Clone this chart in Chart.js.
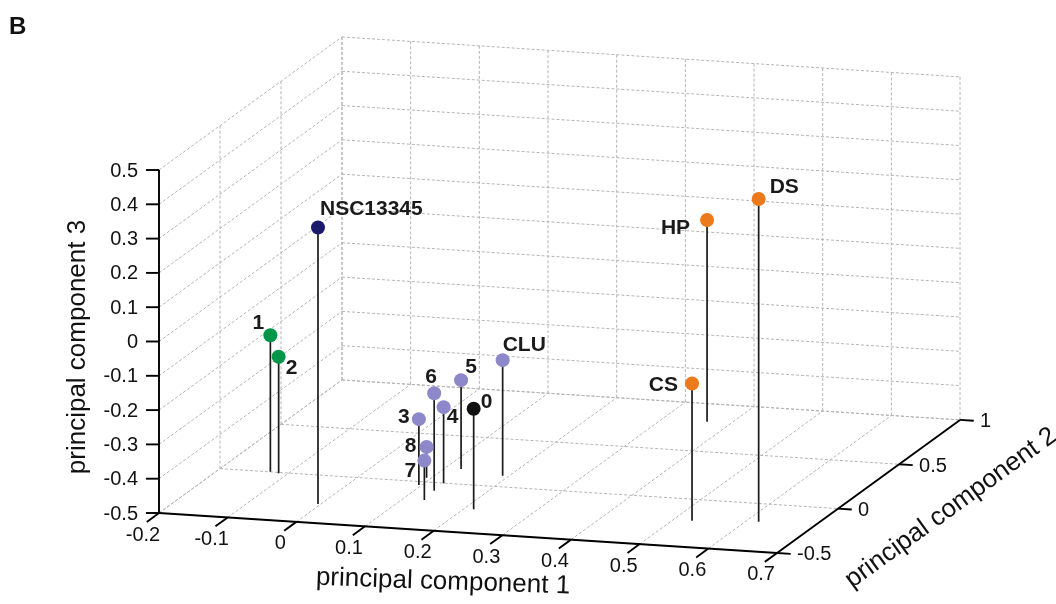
<!DOCTYPE html>
<html>
<head>
<meta charset="utf-8">
<script src="https://cdn.jsdelivr.net/npm/chart.js@4.4.1/dist/chart.umd.min.js"></script>
<style>
    html, body { margin: 0; padding: 0; background: #fff; }
    #wrap { width: 1056px; height: 604px; }
</style>
</head>
<body>
<div id="wrap"><canvas id="pca" width="1056" height="604"></canvas></div>
<script>
"use strict";

// Names of the compounds and their scores on the three principal components.
const names = ["NSC13345", "1", "2", "0", "3", "4", "5", "6", "8", "7", "CLU", "CS", "HP", "DS"];
const pc1 = [-0.004, -0.127, -0.113, 0.214, 0.096, 0.126, 0.123, 0.127, 0.093, 0.131, 0.191, 0.527, 0.365, 0.618];
const pc2 = [-0.300, 0.002, -0.009, -0.251, -0.036, -0.002, 0.158, -0.085, 0.044, -0.188, 0.116, -0.223, 0.812, -0.189];
const pc3 = [0.306, -0.102, -0.160, -0.207, -0.308, -0.278, -0.241, -0.216, -0.410, -0.385, -0.163, -0.100, 0.088, 0.441];
const groups = ["nsc", "green", "green", "zero", "lila", "lila", "lila", "lila", "lila", "lila", "lila", "oranje", "oranje", "oranje"];

// Tick values of the three axes.
const pc1Ticks = [-0.2, -0.1, 0, 0.1, 0.2, 0.3, 0.4, 0.5, 0.6, 0.7];
const pc2Ticks = [-0.5, 0, 0.5, 1];
const pc3Ticks = [-0.5, -0.4, -0.3, -0.2, -0.1, 0, 0.1, 0.2, 0.3, 0.4, 0.5];

// Colours per group.
const groupColors = { nsc: "#1c1a6b", green: "#00964a", zero: "#111111", lila: "#8d88c9", oranje: "#ec7a1c" };

// Where the label of each point sits, relative to its dot (pixels) and how it is aligned.
const labelPlaats = [
    [2, -18, "left"], [-12, -12, "center"], [13, 12, "center"], [13, -7, "center"],
    [-15, -2, "center"], [9, 10, "center"], [10, -13, "center"], [-3, -16, "center"],
    [-16, -1, "center"], [-14, 11, "center"], [0, -15, "left"], [-14, 2, "right"],
    [-17, 8, "right"], [11, -12, "left"]
];

// Box limits.
const lim1 = [-0.2, 0.7], lim2 = [-0.5, 1], lim3 = [-0.5, 0.5];

// Oblique view: screen position of the box corner and the screen step per unit of each component.
const view = {
    ox: 159, oy: 513,
    e1: [686.7, 44.4],
    e2: [122, -88.7],
    e3: [0, -343]
};

// Project a 3D point (pc1, pc2, pc3) to the 2D frame of the chart.
function projecteer(a, b, c) {
    const da = a - lim1[0], db = b - lim2[0], dc = c - lim3[0];
    return {
        x: view.ox + da * view.e1[0] + db * view.e2[0] + dc * view.e3[0],
        y: view.oy + da * view.e1[1] + db * view.e2[1] + dc * view.e3[1]
    };
}

function fmt(v) {
    return String(Math.round(v * 10) / 10);
}

// Stems: from the floor up to the point.
const stemSets = names.map((n, i) => ({
    type: "line",
    showLine: true,
    data: [projecteer(pc1[i], pc2[i], lim3[0]), projecteer(pc1[i], pc2[i], pc3[i])],
    borderColor: "#1a1a1a",
    borderWidth: 1.7,
    pointRadius: 0,
    order: 2
}));

// Points grouped by colour.
const puntSets = Object.keys(groupColors).map(g => ({
    type: "scatter",
    data: names.map((n, i) => i).filter(i => groups[i] === g).map(i => projecteer(pc1[i], pc2[i], pc3[i])),
    backgroundColor: groupColors[g],
    borderWidth: 0,
    pointRadius: 7,
    order: 1
}));

// Draws the grid walls, axes, ticks and axis titles behind the data.
const doosPlugin = {
    id: "doos",
    beforeDatasetsDraw(chart) {
        const ctx = chart.ctx;
        const sx = chart.scales.x, sy = chart.scales.y;
        const px = (a, b, c) => {
            const p = projecteer(a, b, c);
            return [sx.getPixelForValue(p.x), sy.getPixelForValue(p.y)];
        };
        const lijn = (p, q) => {
            ctx.beginPath();
            ctx.moveTo(p[0], p[1]);
            ctx.lineTo(q[0], q[1]);
            ctx.stroke();
        };

        ctx.save();
        // grid
        ctx.strokeStyle = "#b4b4b4";
        ctx.lineWidth = 1;
        ctx.setLineDash([3, 2]);
        pc1Ticks.forEach(t => {
            lijn(px(t, lim2[1], lim3[0]), px(t, lim2[1], lim3[1]));
            lijn(px(t, lim2[0], lim3[0]), px(t, lim2[1], lim3[0]));
        });
        pc2Ticks.forEach(t => {
            lijn(px(lim1[0], t, lim3[0]), px(lim1[0], t, lim3[1]));
            lijn(px(lim1[0], t, lim3[0]), px(lim1[1], t, lim3[0]));
        });
        pc3Ticks.forEach(t => {
            lijn(px(lim1[0], lim2[1], t), px(lim1[1], lim2[1], t));
            lijn(px(lim1[0], lim2[0], t), px(lim1[0], lim2[1], t));
        });
        ctx.setLineDash([]);

        // axes
        ctx.strokeStyle = "#000";
        ctx.lineWidth = 1.9;
        lijn(px(lim1[0], lim2[0], lim3[0]), px(lim1[0], lim2[0], lim3[1]));
        lijn(px(lim1[0], lim2[0], lim3[0]), px(lim1[1], lim2[0], lim3[0]));
        lijn(px(lim1[1], lim2[0], lim3[0]), px(lim1[1], lim2[1], lim3[0]));

        ctx.fillStyle = "#111";
        ctx.font = "20px 'Liberation Sans', Arial, sans-serif";

        // pc3 ticks
        ctx.textAlign = "right";
        ctx.textBaseline = "middle";
        pc3Ticks.forEach(t => {
            const p = px(lim1[0], lim2[0], t);
            lijn(p, [p[0] - 13, p[1]]);
            ctx.fillText(fmt(t), p[0] - 21, p[1] + 1);
        });

        // pc1 ticks
        ctx.textAlign = "center";
        pc1Ticks.forEach(t => {
            const p = px(t, lim2[0], lim3[0]);
            lijn(p, [p[0] - 12.2, p[1] + 8.9]);
            ctx.fillText(fmt(t), p[0] - 16, p[1] + 22);
        });

        // pc2 ticks
        ctx.textAlign = "left";
        pc2Ticks.forEach(t => {
            const p = px(lim1[1], t, lim3[0]);
            lijn(p, [p[0] + 13.7, p[1] + 0.9]);
            ctx.fillText(fmt(t), p[0] + 20, p[1] + 2);
        });

        // axis titles
        ctx.font = "26px 'Liberation Sans', Arial, sans-serif";
        ctx.textAlign = "center";
        ctx.textBaseline = "middle";

        ctx.save();
        ctx.translate(443, 582);
        ctx.rotate(2 * Math.PI / 180);
        ctx.fillText("principal component 1", 0, 0);
        ctx.restore();

        ctx.save();
        ctx.translate(951, 508);
        ctx.rotate(Math.atan2(view.e2[1], view.e2[0]));
        ctx.fillText("principal component 2", 0, 0);
        ctx.restore();

        ctx.save();
        ctx.translate(78, 347);
        ctx.rotate(-Math.PI / 2);
        ctx.fillText("principal component 3", 0, 0);
        ctx.restore();

        // panel letter
        ctx.font = "bold 24px 'Liberation Sans', Arial, sans-serif";
        ctx.textAlign = "left";
        ctx.textBaseline = "alphabetic";
        ctx.fillText("B", 9, 34);
        ctx.restore();
    },
    afterDatasetsDraw(chart) {
        // point labels
        const ctx = chart.ctx;
        const sx = chart.scales.x, sy = chart.scales.y;
        ctx.save();
        ctx.fillStyle = "#1a1a1a";
        ctx.font = "bold 21px 'Liberation Sans', Arial, sans-serif";
        ctx.textBaseline = "middle";
        names.forEach((n, i) => {
            const p = projecteer(pc1[i], pc2[i], pc3[i]);
            const [dx, dy, align] = labelPlaats[i];
            ctx.textAlign = align;
            ctx.fillText(n, sx.getPixelForValue(p.x) + dx, sy.getPixelForValue(p.y) + dy);
        });
        ctx.restore();
    }
};

new Chart(document.getElementById("pca"), {
    type: "scatter",
    data: { datasets: [...puntSets, ...stemSets] },
    options: {
        responsive: false,
        animation: false,
        devicePixelRatio: 1,
        layout: { padding: 0, autoPadding: false },
        scales: {
            x: { type: "linear", min: 0, max: 1056, display: false },
            y: { type: "linear", min: 0, max: 604, reverse: true, display: false }
        },
        plugins: {
            legend: { display: false },
            tooltip: { enabled: false }
        }
    },
    plugins: [doosPlugin]
});
</script>
</body>
</html>
